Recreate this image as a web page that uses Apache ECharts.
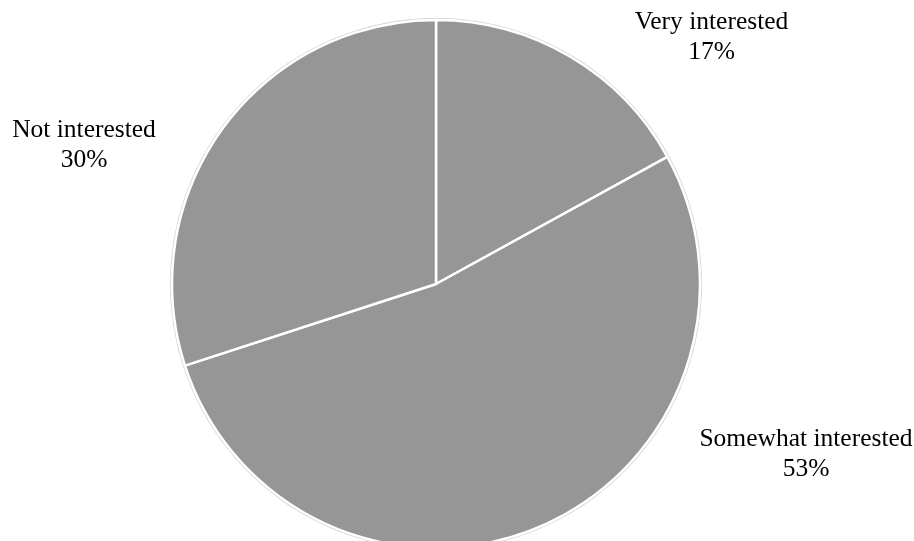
<!DOCTYPE html>
<html><head><meta charset="utf-8">
<script src="https://cdn.jsdelivr.net/npm/echarts@6/dist/echarts.min.js"></script>
<style>html,body{margin:0;padding:0;background:#fff}#c{width:914px;height:541px}</style>
</head><body><div id="c"></div>
<script>
const categories = ["Very interested", "Somewhat interested", "Not interested"];
const values = [17, 53, 30];
const labelPos = [[711.5, 37], [806, 454], [84, 145]];

const chart = echarts.init(document.getElementById('c'), null, {renderer: 'canvas'});
const data = categories.map((c, i) => ({name: c, value: values[i]}));
chart.setOption({
  animation: false,
  backgroundColor: '#fff',
  series: [
    {
      type: 'pie', silent: true, center: [436, 284], radius: [0, 266],
      startAngle: 90, clockwise: true,
      data: [{name: 'bg', value: 1}],
      itemStyle: {color: '#d4d4d4'},
      label: {show: false}, labelLine: {show: false}, z: 1
    },
    {
      type: 'pie', center: [436, 284], radius: [0, 264],
      startAngle: 90, clockwise: true,
      data: data,
      itemStyle: {color: '#969696', borderColor: '#ffffff', borderWidth: 2.5},
      label: {
        show: true, position: 'outside', formatter: '{b}\n{d}%',
        fontFamily: '"Liberation Serif", "Times New Roman", serif',
        fontSize: 25.5, lineHeight: 30, color: '#000', align: 'center'
      },
      labelLine: {show: false},
      labelLayout: function (p) {
        const pos = labelPos[p.dataIndex];
        return {x: pos[0], y: pos[1], align: 'center', verticalAlign: 'middle'};
      },
      z: 2
    }
  ]
});
</script></body></html>
